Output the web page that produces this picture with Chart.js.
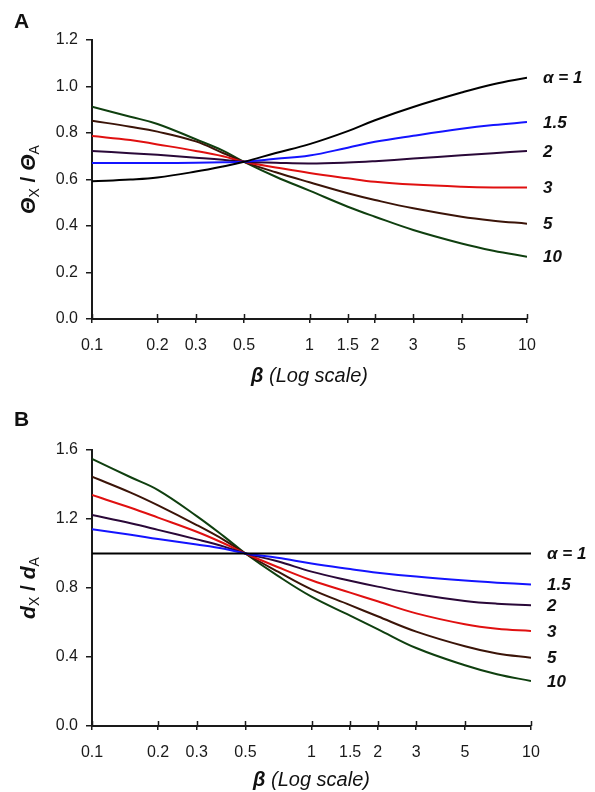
<!DOCTYPE html>
<html><head><meta charset="utf-8">
<script src="https://cdn.jsdelivr.net/npm/chart.js@4"></script>
<style>
html,body{margin:0;padding:0;background:#fff;width:595px;height:792px;overflow:hidden}
canvas{position:absolute;left:0}
#cA{top:0}
#cB{top:400px}
</style></head><body>
<canvas id="cA" width="595" height="400"></canvas>
<canvas id="cB" width="595" height="392"></canvas>
<script>
// ---- data ----
const beta = [0.1, 0.15, 0.2, 0.3, 0.4, 0.5, 0.7, 1, 1.5, 2, 3, 5, 7, 10];
const seriesLabels = ['α = 1', '1.5', '2', '3', '5', '10'];

// Panel A: ΘX / ΘA
const thetaAlpha1   = [0.592, 0.600, 0.609, 0.634, 0.656, 0.676, 0.714, 0.752, 0.808, 0.855, 0.912, 0.974, 1.010, 1.038];
const thetaAlpha1_5 = [0.671, 0.671, 0.671, 0.672, 0.674, 0.676, 0.689, 0.703, 0.737, 0.762, 0.788, 0.818, 0.834, 0.847];
const thetaAlpha2   = [0.723, 0.713, 0.706, 0.694, 0.685, 0.676, 0.672, 0.669, 0.673, 0.679, 0.690, 0.704, 0.713, 0.723];
const thetaAlpha3   = [0.787, 0.770, 0.751, 0.723, 0.700, 0.676, 0.652, 0.628, 0.605, 0.590, 0.578, 0.569, 0.566, 0.566];
const thetaAlpha5   = [0.853, 0.827, 0.806, 0.764, 0.714, 0.676, 0.631, 0.588, 0.541, 0.512, 0.476, 0.440, 0.423, 0.410];
const thetaAlpha10  = [0.913, 0.870, 0.839, 0.773, 0.724, 0.676, 0.612, 0.552, 0.483, 0.440, 0.383, 0.325, 0.294, 0.268];

// Panel B: dX / dA
const dAlpha1   = [1, 1, 1, 1, 1, 1, 1, 1, 1, 1, 1, 1, 1, 1];
const dAlpha1_5 = [1.140, 1.109, 1.084, 1.052, 1.027, 1.000, 0.976, 0.942, 0.910, 0.889, 0.866, 0.843, 0.831, 0.821];
const dAlpha2   = [1.223, 1.175, 1.137, 1.082, 1.040, 1.000, 0.955, 0.895, 0.842, 0.808, 0.765, 0.725, 0.709, 0.700];
const dAlpha3   = [1.339, 1.265, 1.208, 1.126, 1.058, 1.000, 0.922, 0.845, 0.773, 0.723, 0.653, 0.590, 0.564, 0.551];
const dAlpha5   = [1.445, 1.353, 1.279, 1.165, 1.078, 1.000, 0.896, 0.792, 0.701, 0.636, 0.547, 0.462, 0.420, 0.396];
const dAlpha10  = [1.548, 1.442, 1.368, 1.217, 1.098, 1.000, 0.872, 0.750, 0.640, 0.562, 0.452, 0.352, 0.300, 0.261];

const xTickValues = [0.1, 0.2, 0.3, 0.5, 1, 1.5, 2, 3, 5, 10];
const yTicksA = [0, 0.2, 0.4, 0.6, 0.8, 1.0, 1.2];
const yTicksB = [0, 0.4, 0.8, 1.2, 1.6];

// ---- styles ----
const lineColors = ['#000000', '#1414ff', '#2a0838', '#e01010', '#3b1408', '#0f3f0f'];
const FONT = 'Arial, "Liberation Sans", Helvetica, sans-serif';
const AXIS_COLOR = '#1a1a1a';

function makeDatasets(seriesList) {
  return seriesList.map((vals, i) => ({
    label: seriesLabels[i],
    data: beta.map((b, j) => ({ x: b, y: vals[j] })),
    borderColor: lineColors[i],
    borderWidth: 2,
    pointRadius: 0,
    fill: false,
    tension: 0.4
  }));
}

const decorPlugin = {
  id: 'decor',
  afterDraw(chart, args, opts) {
    const ctx = chart.ctx;
    const ca = chart.chartArea;
    const xs = chart.scales.x;
    ctx.save();
    // upward half of x ticks
    ctx.strokeStyle = AXIS_COLOR;
    ctx.lineWidth = 1.5;
    xs.ticks.forEach(t => {
      const px = Math.round(xs.getPixelForValue(t.value)) + 0.5;
      ctx.beginPath();
      ctx.moveTo(px, ca.bottom);
      ctx.lineTo(px, ca.bottom - 5);
      ctx.stroke();
    });
    // series labels at line ends
    ctx.fillStyle = '#111';
    ctx.font = 'italic bold 17px ' + FONT;
    ctx.textAlign = 'left';
    ctx.textBaseline = 'middle';
    chart.data.datasets.forEach((ds, i) => {
      const meta = chart.getDatasetMeta(i);
      const last = meta.data[meta.data.length - 1];
      ctx.fillText(ds.label, ca.right + opts.labelGap, last.y + 1);
    });
    // panel letter
    ctx.font = 'bold 21px ' + FONT;
    ctx.textAlign = 'left';
    ctx.textBaseline = 'middle';
    ctx.fillText(opts.panel, 14, opts.panelY);
    // x title: bold italic β + italic (Log scale)
    const cx = (ca.left + ca.right) / 2;
    const p1 = 'β', p2 = ' (Log scale)';
    ctx.font = 'italic bold 20px ' + FONT;
    const w1 = ctx.measureText(p1).width;
    ctx.font = 'italic 20px ' + FONT;
    const w2 = ctx.measureText(p2).width;
    let x0 = cx - (w1 + w2) / 2;
    ctx.textBaseline = 'middle';
    ctx.font = 'italic bold 20px ' + FONT;
    ctx.fillText(p1, x0, opts.xTitleY);
    ctx.font = 'italic 20px ' + FONT;
    ctx.fillText(p2, x0 + w1, opts.xTitleY);
    // y title rotated, with subscripts
    const cy = (ca.top + ca.bottom) / 2;
    ctx.translate(29, cy);
    ctx.rotate(-Math.PI / 2);
    const parts = [
      { t: opts.sym, f: 'italic bold 21px ' + FONT, dy: 0 },
      { t: 'X', f: '14px ' + FONT, dy: 6 },
      { t: ' / ', f: 'bold 21px ' + FONT, dy: 0 },
      { t: opts.sym, f: 'italic bold 21px ' + FONT, dy: 0 },
      { t: 'A', f: '14px ' + FONT, dy: 6 }
    ];
    let total = 0;
    parts.forEach(p => { ctx.font = p.f; p.w = ctx.measureText(p.t).width; total += p.w; });
    let xx = -total / 2;
    ctx.textBaseline = 'middle';
    parts.forEach(p => { ctx.font = p.f; ctx.fillText(p.t, xx, p.dy); xx += p.w; });
    ctx.restore();
  }
};

function makeChart(id, seriesList, yMax, yTicks, cfg) {
  const canvas = document.getElementById(id);
  const H = canvas.height;
  return new Chart(canvas, {
    type: 'line',
    data: { datasets: makeDatasets(seriesList) },
    options: {
      responsive: false,
      animation: false,
      layout: { padding: { left: 0, top: cfg.top, right: 595 - cfg.right, bottom: 0 } },
      plugins: {
        legend: { display: false },
        tooltip: { enabled: false },
        decor: cfg.decor
      },
      scales: {
        x: {
          type: 'logarithmic',
          min: 0.1, max: 10,
          afterBuildTicks: s => { s.ticks = xTickValues.map(v => ({ value: v })); },
          afterFit: s => { s.height = H - cfg.bottom; },
          ticks: {
            autoSkip: false, maxRotation: 0, padding: 13,
            color: '#1a1a1a', font: { family: FONT, size: 16 },
            callback: v => String(v)
          },
          grid: { display: true, drawOnChartArea: false, drawTicks: true, tickLength: 4, color: AXIS_COLOR, lineWidth: 1.5 },
          border: { display: true, color: AXIS_COLOR, width: 2 }
        },
        y: {
          type: 'linear',
          min: 0, max: yMax,
          afterBuildTicks: s => { s.ticks = yTicks.map(v => ({ value: v })); },
          afterFit: s => { s.width = 92; },
          ticks: {
            padding: 8, color: '#1a1a1a', font: { family: FONT, size: 16 },
            callback: v => Number(v).toFixed(1)
          },
          grid: { display: true, drawOnChartArea: false, drawTicks: true, tickLength: 6, color: AXIS_COLOR, lineWidth: 1.5 },
          border: { display: true, color: AXIS_COLOR, width: 2 }
        }
      }
    },
    plugins: [decorPlugin]
  });
}

makeChart('cA',
  [thetaAlpha1, thetaAlpha1_5, thetaAlpha2, thetaAlpha3, thetaAlpha5, thetaAlpha10],
  1.2, yTicksA,
  { top: 40, right: 527, bottom: 319,
    decor: { panel: 'A', panelY: 22, xTitleY: 376, sym: 'Θ', labelGap: 16 } });

makeChart('cB',
  [dAlpha1, dAlpha1_5, dAlpha2, dAlpha3, dAlpha5, dAlpha10],
  1.6, yTicksB,
  { top: 50, right: 531, bottom: 326,
    decor: { panel: 'B', panelY: 20, xTitleY: 380, sym: 'd', labelGap: 16 } });
</script>
</body></html>
